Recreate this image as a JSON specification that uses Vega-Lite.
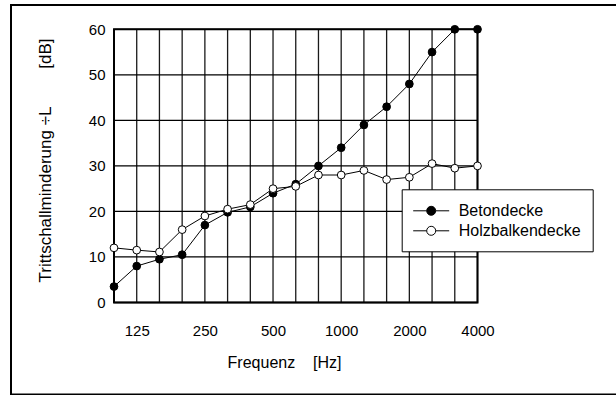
{
  "$schema": "https://vega.github.io/schema/vega-lite/v6.json",
  "width": 606,
  "height": 389.5,
  "autosize": {"type": "none"},
  "padding": {"left": 11, "top": 5, "right": 0, "bottom": 0},
  "background": "white",
  "config": {
    "font": "Liberation Sans",
    "view": {"stroke": "black", "strokeWidth": 2}
  },
  "datasets": {
    "curves": [
      {"i": 0, "f": 100, "s": "Betondecke", "v": 3.5},
      {"i": 1, "f": 125, "s": "Betondecke", "v": 8},
      {"i": 2, "f": 160, "s": "Betondecke", "v": 9.5},
      {"i": 3, "f": 200, "s": "Betondecke", "v": 10.5},
      {"i": 4, "f": 250, "s": "Betondecke", "v": 17},
      {"i": 5, "f": 315, "s": "Betondecke", "v": 19.8},
      {"i": 6, "f": 400, "s": "Betondecke", "v": 21},
      {"i": 7, "f": 500, "s": "Betondecke", "v": 24},
      {"i": 8, "f": 630, "s": "Betondecke", "v": 26},
      {"i": 9, "f": 800, "s": "Betondecke", "v": 30},
      {"i": 10, "f": 1000, "s": "Betondecke", "v": 34},
      {"i": 11, "f": 1250, "s": "Betondecke", "v": 39},
      {"i": 12, "f": 1600, "s": "Betondecke", "v": 43},
      {"i": 13, "f": 2000, "s": "Betondecke", "v": 48},
      {"i": 14, "f": 2500, "s": "Betondecke", "v": 55},
      {"i": 15, "f": 3150, "s": "Betondecke", "v": 60},
      {"i": 16, "f": 4000, "s": "Betondecke", "v": 60},
      {"i": 0, "f": 100, "s": "Holzbalkendecke", "v": 12},
      {"i": 1, "f": 125, "s": "Holzbalkendecke", "v": 11.5},
      {"i": 2, "f": 160, "s": "Holzbalkendecke", "v": 11.1},
      {"i": 3, "f": 200, "s": "Holzbalkendecke", "v": 16},
      {"i": 4, "f": 250, "s": "Holzbalkendecke", "v": 19},
      {"i": 5, "f": 315, "s": "Holzbalkendecke", "v": 20.5},
      {"i": 6, "f": 400, "s": "Holzbalkendecke", "v": 21.5},
      {"i": 7, "f": 500, "s": "Holzbalkendecke", "v": 25},
      {"i": 8, "f": 630, "s": "Holzbalkendecke", "v": 25.5},
      {"i": 9, "f": 800, "s": "Holzbalkendecke", "v": 28},
      {"i": 10, "f": 1000, "s": "Holzbalkendecke", "v": 28},
      {"i": 11, "f": 1250, "s": "Holzbalkendecke", "v": 29},
      {"i": 12, "f": 1600, "s": "Holzbalkendecke", "v": 27},
      {"i": 13, "f": 2000, "s": "Holzbalkendecke", "v": 27.5},
      {"i": 14, "f": 2500, "s": "Holzbalkendecke", "v": 30.5},
      {"i": 15, "f": 3150, "s": "Holzbalkendecke", "v": 29.5},
      {"i": 16, "f": 4000, "s": "Holzbalkendecke", "v": 30}
    ],
    "vgrid": [
      {"i": 0}, {"i": 1}, {"i": 2}, {"i": 3}, {"i": 4}, {"i": 5}, {"i": 6}, {"i": 7}, {"i": 8},
      {"i": 9}, {"i": 10}, {"i": 11}, {"i": 12}, {"i": 13}, {"i": 14}, {"i": 15}, {"i": 16}
    ],
    "hgrid": [
      {"v": 0}, {"v": 10}, {"v": 20}, {"v": 30}, {"v": 40}, {"v": 50}, {"v": 60}
    ],
    "frame": [{"x0": 0, "x1": 16, "y0": 0, "y1": 60}]
  },
  "layer": [
    {
      "data": {"name": "vgrid"},
      "mark": {"type": "rule", "color": "#1a1a1a", "strokeWidth": 1.3},
      "encoding": {
        "x": {
          "field": "i",
          "type": "quantitative",
          "scale": {"domain": [0, 16], "range": [103, 466.5], "nice": false, "zero": false},
          "axis": {
            "values": [1, 4, 7, 10, 13, 16],
            "labelExpr": "['100','125','160','200','250','315','400','500','630','800','1000','1250','1600','2000','2500','3150','4000'][datum.value]",
            "offset": -92,
            "domain": false,
            "ticks": false,
            "tickSize": 0,
            "grid": false,
            "labelFlush": false,
            "labelOverlap": false,
            "labelBound": false,
            "labelPadding": 21,
            "labelDx": 2,
            "labelFontSize": 15,
            "labelColor": "black",
            "title": "Frequenz\u00a0\u00a0\u00a0\u00a0[Hz]",
            "titleFontSize": 16,
            "titleFontWeight": "normal",
            "titleColor": "black",
            "titleX": 273,
            "titleY": 60,
            "titleAlign": "center",
            "titleBaseline": "middle"
          }
        },
        "y": {
          "datum": 0,
          "type": "quantitative",
          "scale": {"domain": [0, 60], "range": [297.5, 24.3], "nice": false, "zero": false},
          "axis": {
            "values": [0, 10, 20, 30, 40, 50, 60],
            "offset": -103,
            "domain": false,
            "ticks": false,
            "tickSize": 0,
            "grid": false,
            "labelFlush": false,
            "labelOverlap": false,
            "labelBound": false,
            "labelPadding": 9,
            "labelFontSize": 15,
            "labelColor": "black",
            "title": "Trittschallminderung \u00f7L\u00a0\u00a0\u00a0\u00a0\u00a0\u00a0\u00a0\u00a0[dB]",
            "titleFontSize": 17,
            "titleFontWeight": "normal",
            "titleColor": "black",
            "titleX": -68.5,
            "titleY": 155,
            "titleAngle": -90,
            "titleAlign": "center",
            "titleBaseline": "middle"
          }
        },
        "y2": {"datum": 60}
      }
    },
    {
      "data": {"name": "hgrid"},
      "mark": {"type": "rule", "color": "black", "strokeWidth": 1.3},
      "encoding": {
        "y": {"field": "v", "type": "quantitative"},
        "x": {"datum": 0, "type": "quantitative"},
        "x2": {"datum": 16}
      }
    },
    {
      "data": {"name": "frame"},
      "mark": {"type": "rect", "fill": null, "fillOpacity": 0, "stroke": "black", "strokeWidth": 2},
      "encoding": {
        "x": {"field": "x0", "type": "quantitative"},
        "x2": {"field": "x1"},
        "y": {"field": "y0", "type": "quantitative"},
        "y2": {"field": "y1"}
      }
    },
    {
      "data": {"name": "curves"},
      "mark": {"type": "line", "color": "black", "strokeWidth": 1},
      "encoding": {
        "x": {"field": "i", "type": "quantitative"},
        "y": {"field": "v", "type": "quantitative"},
        "detail": {"field": "s", "type": "nominal"}
      }
    },
    {
      "data": {"name": "curves"},
      "mark": {"type": "point", "filled": true, "stroke": "black", "strokeWidth": 1, "size": 60, "opacity": 1},
      "encoding": {
        "x": {"field": "i", "type": "quantitative"},
        "y": {"field": "v", "type": "quantitative"},
        "fill": {
          "field": "s",
          "type": "nominal",
          "scale": {"domain": ["Betondecke", "Holzbalkendecke"], "range": ["black", "white"]},
          "legend": {
            "title": null,
            "orient": "none",
            "legendX": 390.7,
            "legendY": 184.3,
            "direction": "vertical",
            "symbolType": "M-2,0H-0.5M0.5,0H2M-0.5,0A0.5,0.5 0 1,0 0.5,0A0.5,0.5 0 1,0 -0.5,0Z",
            "symbolSize": 324,
            "symbolStrokeColor": "black",
            "symbolStrokeWidth": 1,
            "symbolOffset": 8,
            "labelFontSize": 16,
            "labelColor": "black",
            "labelOffset": 18,
            "padding": 12,
            "rowPadding": 2,
            "strokeColor": "black",
            "fillColor": "white"
          }
        }
      }
    }
  ]
}
